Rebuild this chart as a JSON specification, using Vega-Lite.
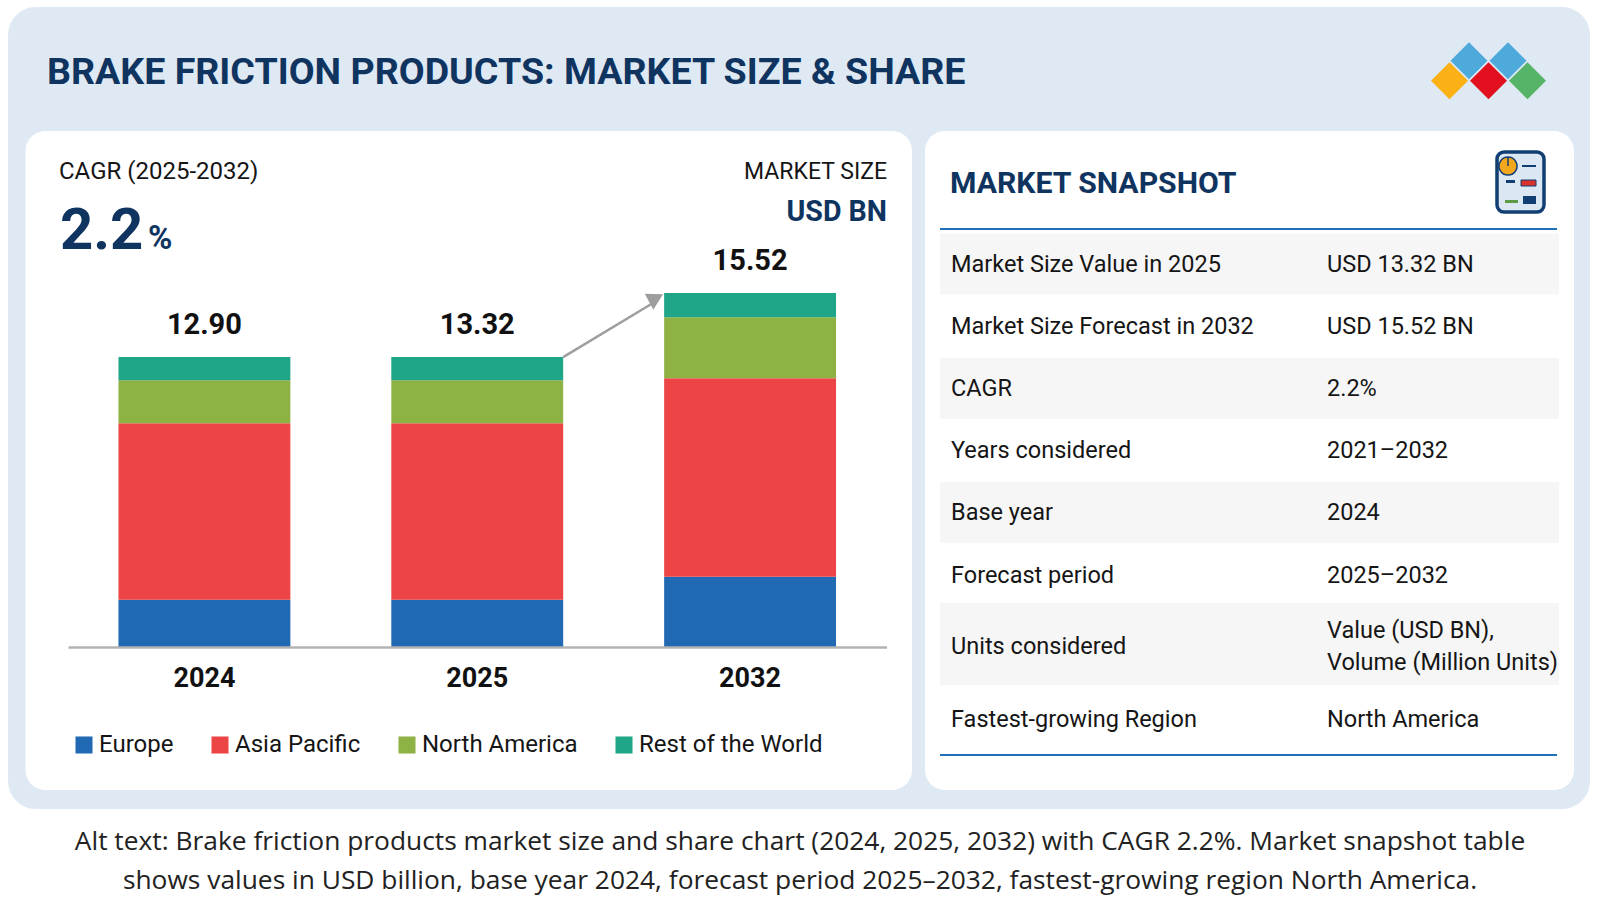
{
  "$schema": "https://vega.github.io/schema/vega-lite/v6.json",
  "width": 1600,
  "height": 914,
  "padding": 0,
  "autosize": {"type": "fit", "contains": "padding"},
  "background": "white",
  "view": {"stroke": null},
  "config": {"text": {"font": "Roboto", "color": "#151515"}},
  "datasets": {
    "market": [
      {"year": "2024", "region": "Europe", "rank": 1, "size": 2.07, "total": 12.90},
      {"year": "2024", "region": "Asia Pacific", "rank": 2, "size": 7.74, "total": 12.90},
      {"year": "2024", "region": "North America", "rank": 3, "size": 1.89, "total": 12.90},
      {"year": "2024", "region": "Rest of the World", "rank": 4, "size": 1.01, "total": 12.90},
      {"year": "2025", "region": "Europe", "rank": 1, "size": 2.07, "total": 13.32},
      {"year": "2025", "region": "Asia Pacific", "rank": 2, "size": 7.74, "total": 13.32},
      {"year": "2025", "region": "North America", "rank": 3, "size": 1.89, "total": 13.32},
      {"year": "2025", "region": "Rest of the World", "rank": 4, "size": 1.01, "total": 13.32},
      {"year": "2032", "region": "Europe", "rank": 1, "size": 3.08, "total": 15.52},
      {"year": "2032", "region": "Asia Pacific", "rank": 2, "size": 8.70, "total": 15.52},
      {"year": "2032", "region": "North America", "rank": 3, "size": 2.68, "total": 15.52},
      {"year": "2032", "region": "Rest of the World", "rank": 4, "size": 1.06, "total": 15.52}
    ],
    "snapshot": [
      {"label": "Market Size Value in 2025", "value": "USD 13.32 BN"},
      {"label": "Market Size Forecast in 2032", "value": "USD 15.52 BN"},
      {"label": "CAGR", "value": "2.2%"},
      {"label": "Years considered", "value": "2021–2032"},
      {"label": "Base year", "value": "2024"},
      {"label": "Forecast period", "value": "2025–2032"}
    ],
    "snapshot_tall": [
      {"label": "Units considered", "value": "Value (USD BN),\nVolume (Million Units)"},
      {"label": "Fastest-growing Region", "value": "North America"}
    ],
    "logo": [
      {"piece": "amber", "tier": "lower", "tone": "#fbb116"},
      {"piece": "sky left", "tier": "upper", "tone": "#4eaadb"},
      {"piece": "red", "tier": "lower", "tone": "#e2101f"},
      {"piece": "sky right", "tier": "upper", "tone": "#4eaadb"},
      {"piece": "green", "tier": "lower", "tone": "#55b467"}
    ]
  },
  "data": {"values": [{}]},
  "resolve": {"scale": {"x": "independent", "y": "independent", "color": "independent"}, "axis": {"x": "independent", "y": "independent"}},
  "layer": [
    {"mark": {"type": "rect", "x": 8, "x2": 1590, "y": 7, "y2": 809, "fill": "#dfe9f4", "cornerRadius": 28}, "encoding": {}},
    {"mark": {"type": "rect", "x": 25.5, "x2": 912, "y": 131, "y2": 790, "fill": "white", "cornerRadius": 20}, "encoding": {}},
    {"mark": {"type": "rect", "x": 925, "x2": 1574, "y": 131, "y2": 790, "fill": "white", "cornerRadius": 20}, "encoding": {}},
    {"mark": {"type": "text", "text": "BRAKE FRICTION PRODUCTS: MARKET SIZE & SHARE", "x": 47, "y": 73, "align": "left", "baseline": "middle", "fontSize": 37.6, "fontWeight": "bold", "color": "#0f3460"}, "encoding": {}},
    {
      "data": {"name": "logo"},
      "mark": {"type": "point", "shape": "diamond", "filled": true, "opacity": 1, "size": 1370},
      "encoding": {
        "x": {"field": "piece", "type": "nominal", "axis": null, "scale": {"type": "point", "domain": ["amber", "sky left", "red", "sky right", "green"], "range": [1449.5, 1527.5], "padding": 0}},
        "y": {"field": "tier", "type": "nominal", "axis": null, "scale": {"type": "point", "domain": ["upper", "lower"], "range": [60.7, 80.7], "padding": 0}},
        "fill": {"field": "tone", "type": "nominal", "scale": null}
      }
    },
    {"mark": {"type": "text", "text": "CAGR (2025-2032)", "x": 59, "y": 172, "align": "left", "baseline": "middle", "fontSize": 24}, "encoding": {}},
    {"mark": {"type": "text", "text": "2.2", "x": 60, "y": 249, "align": "left", "baseline": "alphabetic", "fontSize": 58, "fontWeight": "bold", "color": "#0f3460"}, "encoding": {}},
    {"mark": {"type": "text", "text": "%", "x": 148, "y": 249, "align": "left", "baseline": "alphabetic", "fontSize": 33, "fontWeight": "bold", "color": "#0f3460"}, "encoding": {}},
    {"mark": {"type": "text", "text": "MARKET SIZE", "x": 887, "y": 172, "align": "right", "baseline": "middle", "fontSize": 23}, "encoding": {}},
    {"mark": {"type": "text", "text": "USD BN", "x": 887, "y": 212, "align": "right", "baseline": "middle", "fontSize": 28.6, "fontWeight": "bold", "color": "#0f3460"}, "encoding": {}},
    {
      "data": {"name": "market"},
      "mark": {"type": "bar"},
      "encoding": {
        "x": {
          "field": "year",
          "type": "ordinal",
          "title": null,
          "axis": {"orient": "bottom", "offset": -267, "zindex": 1, "ticks": false, "labelAngle": 0, "labelFont": "Roboto", "labelFontSize": 27, "labelFontWeight": "bold", "labelColor": "#111111", "labelPadding": 18, "domainColor": "#b3b3b3", "domainWidth": 2.5, "grid": false},
          "scale": {"type": "band", "range": [68, 886.5], "paddingInner": 0.37, "paddingOuter": 0.185}
        },
        "y": {"field": "size", "type": "quantitative", "stack": "zero", "axis": null, "scale": {"domain": [0, 15.52], "range": [647, 293], "nice": false}},
        "order": {"field": "rank", "type": "quantitative"},
        "color": {
          "field": "region",
          "type": "nominal",
          "sort": null,
          "scale": {"domain": ["Europe", "Asia Pacific", "North America", "Rest of the World"], "range": ["#2169b3", "#ed4545", "#8eb243", "#1fa587"]},
          "legend": {"title": null, "orient": "none", "legendX": 72, "legendY": 733, "direction": "horizontal", "columns": 4, "gridAlign": "none", "columnPadding": 34, "symbolType": "square", "symbolSize": 290, "symbolStrokeWidth": 0, "labelFont": "Roboto", "labelFontSize": 24, "labelLimit": 300, "labelColor": "#151515", "labelOffset": 3}
        }
      }
    },
    {
      "data": {"name": "market"},
      "mark": {"type": "text", "fontSize": 29, "fontWeight": "bold", "dy": -32, "color": "#111111"},
      "encoding": {
        "x": {"field": "year", "type": "ordinal", "axis": null, "scale": {"type": "band", "range": [68, 886.5], "paddingInner": 0.37, "paddingOuter": 0.185}},
        "y": {"aggregate": "sum", "field": "size", "type": "quantitative", "axis": null, "scale": {"domain": [0, 15.52], "range": [647, 293], "nice": false}},
        "text": {"aggregate": "max", "field": "total", "type": "quantitative", "format": ".2f"}
      }
    },
    {
      "data": {"values": [{"year": "2025", "top": 12.71}]},
      "mark": {"type": "rule", "color": "#9e9e9e", "strokeWidth": 2.5},
      "encoding": {
        "x": {"field": "year", "type": "ordinal", "bandPosition": 1, "axis": null, "scale": {"type": "band", "domain": ["2024", "2025", "2032"], "range": [68, 886.5], "paddingInner": 0.37, "paddingOuter": 0.185}},
        "y": {"field": "top", "type": "quantitative", "axis": null, "scale": {"domain": [0, 15.52], "range": [647, 293], "nice": false}},
        "x2": {"value": 653},
        "y2": {"value": 303}
      }
    },
    {"mark": {"type": "point", "shape": "triangle-up", "filled": true, "opacity": 1, "size": 330, "angle": 62, "color": "#9e9e9e", "x": 656, "y": 298}, "encoding": {}},
    {"mark": {"type": "text", "text": "MARKET SNAPSHOT", "x": 950, "y": 184, "align": "left", "baseline": "middle", "fontSize": 30.2, "fontWeight": "bold", "color": "#0f3460"}, "encoding": {}},
    {"mark": {"type": "rect", "x": 1497, "x2": 1544, "y": 152, "y2": 212, "fill": "#dbe7f3", "stroke": "#123f73", "strokeWidth": 3.5, "cornerRadius": 7}, "encoding": {}},
    {"mark": {"type": "arc", "x": 1508, "y": 166, "innerRadius": 0, "outerRadius": 9, "theta": 0, "theta2": 6.283, "fill": "#f3a71c", "stroke": "#123f73", "strokeWidth": 1.5}, "encoding": {}},
    {"mark": {"type": "rect", "x": 1522, "x2": 1536, "y": 165, "y2": 167, "fill": "#123f73"}, "encoding": {}},
    {"mark": {"type": "rect", "x": 1521, "x2": 1536, "y": 180, "y2": 186, "fill": "#d9322e", "stroke": "#123f73"}, "encoding": {}},
    {"mark": {"type": "rect", "x": 1506, "x2": 1515, "y": 180, "y2": 183, "fill": "#123f73"}, "encoding": {}},
    {"mark": {"type": "rect", "x": 1505, "x2": 1518, "y": 200, "y2": 203, "fill": "#5c9a45"}, "encoding": {}},
    {"mark": {"type": "rect", "x": 1523, "x2": 1536, "y": 196, "y2": 204, "fill": "#123f73"}, "encoding": {}},
    {
      "data": {"name": "snapshot"},
      "transform": [{"filter": {"field": "label", "oneOf": ["Market Size Value in 2025", "CAGR", "Base year"]}}],
      "mark": {"type": "rule", "color": "#f6f6f6", "strokeWidth": 61},
      "encoding": {
        "y": {"field": "label", "type": "nominal", "axis": null, "scale": {"type": "point", "domain": ["Market Size Value in 2025", "Market Size Forecast in 2032", "CAGR", "Years considered", "Base year", "Forecast period"], "range": [264, 574.5], "padding": 0}},
        "x": {"value": 940},
        "x2": {"value": 1559}
      }
    },
    {
      "data": {"name": "snapshot_tall"},
      "transform": [{"filter": {"field": "label", "equal": "Units considered"}}],
      "mark": {"type": "rule", "color": "#f6f6f6", "strokeWidth": 82},
      "encoding": {
        "y": {"field": "label", "type": "nominal", "axis": null, "scale": {"type": "point", "domain": ["Units considered", "Fastest-growing Region"], "range": [644, 719], "padding": 0}},
        "x": {"value": 940},
        "x2": {"value": 1559}
      }
    },
    {"mark": {"type": "rect", "x": 940, "x2": 1557, "y": 228, "y2": 230, "fill": "#1f6fb5"}, "encoding": {}},
    {"mark": {"type": "rect", "x": 940, "x2": 1557, "y": 754, "y2": 756, "fill": "#1f6fb5"}, "encoding": {}},
    {
      "data": {"name": "snapshot"},
      "mark": {"type": "text", "align": "left", "baseline": "middle", "fontSize": 23.5},
      "encoding": {
        "y": {"field": "label", "type": "nominal", "sort": null, "axis": null, "scale": {"type": "point", "range": [265, 575.5], "padding": 0}},
        "x": {"value": 951},
        "text": {"field": "label", "type": "nominal"}
      }
    },
    {
      "data": {"name": "snapshot"},
      "mark": {"type": "text", "align": "left", "baseline": "middle", "fontSize": 23.5},
      "encoding": {
        "y": {"field": "label", "type": "nominal", "sort": null, "axis": null, "scale": {"type": "point", "range": [265, 575.5], "padding": 0}},
        "x": {"value": 1327},
        "text": {"field": "value", "type": "nominal"}
      }
    },
    {
      "data": {"name": "snapshot_tall"},
      "mark": {"type": "text", "align": "left", "baseline": "middle", "fontSize": 23.5},
      "encoding": {
        "y": {"field": "label", "type": "nominal", "sort": null, "axis": null, "scale": {"type": "point", "range": [647, 720], "padding": 0}},
        "x": {"value": 951},
        "text": {"field": "label", "type": "nominal"}
      }
    },
    {
      "data": {"name": "snapshot_tall"},
      "transform": [{"filter": {"field": "label", "equal": "Units considered"}}],
      "mark": {"type": "text", "align": "left", "baseline": "middle", "fontSize": 23.5, "lineBreak": "\n", "lineHeight": 32, "dy": -16},
      "encoding": {
        "y": {"field": "label", "type": "nominal", "axis": null, "scale": {"type": "point", "domain": ["Units considered", "Fastest-growing Region"], "range": [647, 720], "padding": 0}},
        "x": {"value": 1327},
        "text": {"field": "value", "type": "nominal"}
      }
    },
    {
      "data": {"name": "snapshot_tall"},
      "transform": [{"filter": {"field": "label", "equal": "Fastest-growing Region"}}],
      "mark": {"type": "text", "align": "left", "baseline": "middle", "fontSize": 23.5},
      "encoding": {
        "y": {"field": "label", "type": "nominal", "axis": null, "scale": {"type": "point", "domain": ["Units considered", "Fastest-growing Region"], "range": [647, 720], "padding": 0}},
        "x": {"value": 1327},
        "text": {"field": "value", "type": "nominal"}
      }
    },
    {"mark": {"type": "text", "text": "Alt text: Brake friction products market size and share chart (2024, 2025, 2032) with CAGR 2.2%. Market snapshot table", "x": 800, "y": 842, "align": "center", "baseline": "middle", "font": "Open Sans", "fontSize": 26.35, "color": "#222222"}, "encoding": {}},
    {"mark": {"type": "text", "text": "shows values in USD billion, base year 2024, forecast period 2025–2032, fastest-growing region North America.", "x": 800, "y": 881, "align": "center", "baseline": "middle", "font": "Open Sans", "fontSize": 26.35, "color": "#222222"}, "encoding": {}}
  ]
}
